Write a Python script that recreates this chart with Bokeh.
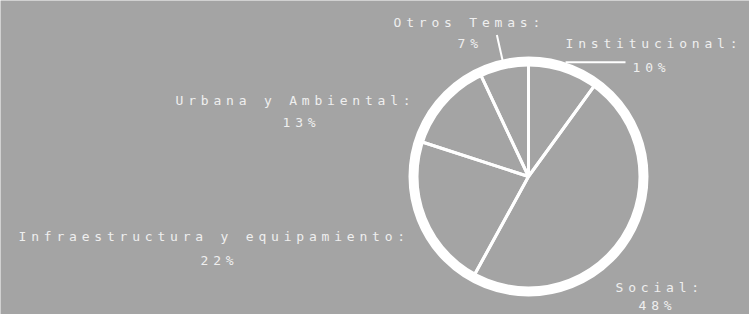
import math
from bokeh.plotting import figure
from bokeh.models import ColumnDataSource, Range1d, CustomJS
from bokeh.document import Document
from bokeh.embed import file_html
from bokeh.resources import INLINE
from bokeh.core.properties import value

# ---- data ----
categories = ["Institucional", "Social", "Infraestructura y equipamiento",
              "Urbana y Ambiental", "Otros Temas"]
percent = [10, 48, 22, 13, 7]
label_texts = ["Institucional:", "Social:", "Infraestructura y equipamiento:",
               "Urbana y Ambiental:", "Otros Temas:"]
pct_texts = ["10%", "48%", "22%", "13%", "7%"]

# ---- layout (page pixels; pie centre at CX, CY) ----
CX, CY = 528, 176
W, H = 749, 314
R = 115
label_pos = [(565, 43), (615, 287), (18, 236), (175, 100), (393, 22)]
pct_pos = [(632, 67), (638, 305), (200, 260), (282, 122), (457, 43)]

BG = "#a4a4a4"
TXT = "#efefef"
FONT = "DejaVu Sans Mono"


def to_data(px, py):
    return px - CX, CY - py


# wedge angles: clockwise from 12 o'clock
total = float(sum(percent))
starts, ends, mids = [], [], []
cum = 0.0
for v in percent:
    a0 = cum / total * 2 * math.pi
    cum += v
    a1 = cum / total * 2 * math.pi
    starts.append(math.pi / 2 - a0)
    ends.append(math.pi / 2 - a1)
    mids.append((a0 + a1) / 2)

src = ColumnDataSource(dict(start=starts, end=ends, cat=categories))

p = figure(width=W, height=H, x_range=Range1d(-CX, W - CX),
           y_range=Range1d(CY - H, CY),
           output_backend="svg", toolbar_location=None, min_border=0,
           background_fill_color=BG, border_fill_color=BG,
           outline_line_color=None)
p.axis.visible = False
p.grid.visible = False

p.wedge(x=0, y=0, radius=R, start_angle="start", end_angle="end",
        direction="clock", source=src, fill_color=None,
        line_color="white", line_width=3)
p.circle(x=0, y=0, radius=R, fill_color=None, line_color="white",
         line_width=10)

# leader lines
# Otros Temas: radial
m = mids[4]
p.line([118 * math.sin(m), 145 * math.sin(m)],
       [118 * math.cos(m), 145 * math.cos(m)], line_color="white", line_width=2)
# Institucional: horizontal from ring
m = mids[0]
x0, y0 = 120 * math.sin(m), 120 * math.cos(m)
p.line([x0, 97], [y0, y0], line_color="white", line_width=2)

lx, ly = zip(*[to_data(*q) for q in label_pos])
px_, py_ = zip(*[to_data(*q) for q in pct_pos])
tsrc = ColumnDataSource(dict(x=list(lx) + list(px_), y=list(ly) + list(py_),
                             t=label_texts + pct_texts))
p.text(x="x", y="y", text="t", source=tsrc, text_font=value(FONT),
       text_font_size="13px", text_color=TXT, text_align="left",
       text_baseline="middle")

js = """
const css = "text { letter-spacing: 4.8px; }";
function inject(root) {
  if (!root.__ls) {
    const s = document.createElement('style');
    s.textContent = css;
    if (root === document) { document.head.appendChild(s); } else { root.appendChild(s); }
    root.__ls = true;
  }
  root.querySelectorAll('*').forEach(el => { if (el.shadowRoot) inject(el.shadowRoot); });
}
function run() { inject(document); }
run();
[0, 50, 150, 400, 1000, 2000].forEach(t => setTimeout(run, t));
"""

doc = Document()
doc.add_root(p)
doc.js_on_event("document_ready", CustomJS(code=js))

open("out.html", "w").write(file_html(p, INLINE))
